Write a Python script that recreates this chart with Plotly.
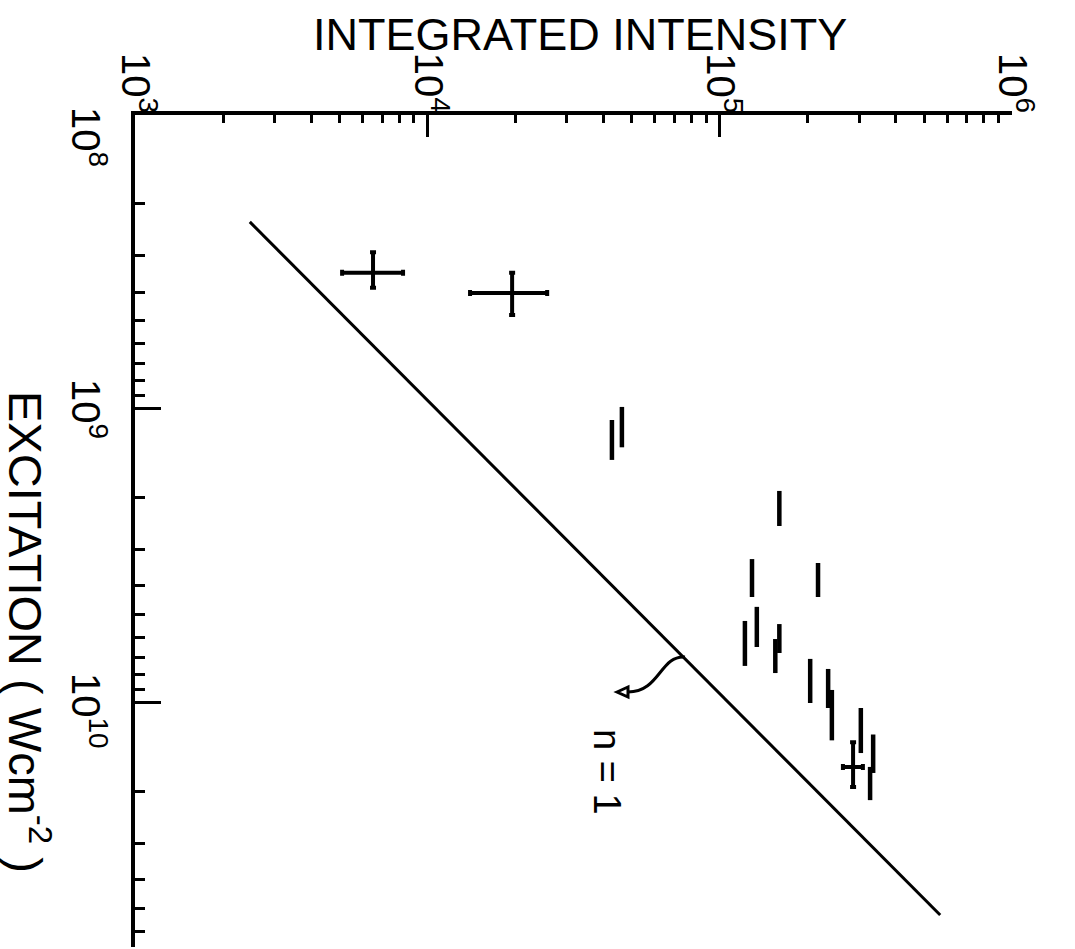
import math
import plotly.graph_objects as go

# ---- data ----
# intensity on horizontal axis, excitation on vertical axis
# crosses: points with error bars in both directions
cross_intensity = [6.52e3, 1.95e4, 2.86e5]
cross_intensity_low = [5.11e3, 1.40e4, 2.64e5]
cross_intensity_high = [8.26e3, 2.57e4, 3.09e5]
cross_excitation = [3.44e8, 4.03e8, 1.65e10]
cross_excitation_low = [2.93e8, 3.44e8, 1.36e10]
cross_excitation_high = [3.87e8, 4.79e8, 1.93e10]

# bars: excitation ranges at fixed intensity
bar_intensity = [4.28e4, 4.63e4, 1.60e5, 1.29e5, 2.17e5, 1.34e5, 1.22e5, 1.60e5,
                 1.55e5, 2.04e5, 2.35e5, 2.42e5, 3.04e5, 3.35e5, 3.27e5]
bar_excitation_low = [1.09e9, 9.84e8, 1.90e9, 3.24e9, 3.34e9, 4.71e9, 5.26e9, 5.39e9,
                      6.06e9, 7.08e9, 7.66e9, 9.03e9, 1.04e10, 1.28e10, 1.65e10]
bar_excitation_high = [1.49e9, 1.35e9, 2.50e9, 4.36e9, 4.36e9, 6.45e9, 7.48e9, 6.76e9,
                       7.91e9, 1.00e10, 1.04e10, 1.34e10, 1.48e10, 1.73e10, 2.14e10]

# n = 1 reference line
fit_intensity = [2.47e3, 5.68e5]
fit_excitation = [2.31e8, 5.26e10]

x_tick_vals = [1e3, 1e4, 1e5, 1e6]
x_tick_text = ["10<sup>3</sup>", "10<sup>4</sup>", "10<sup>5</sup>", "10<sup>6</sup>"]
y_tick_vals = [1e8, 1e9, 1e10]
y_tick_text = ["10<sup>8</sup>", "10<sup>9</sup>", "10<sup>10</sup>"]

x_title = "INTEGRATED INTENSITY"
y_title = "EXCITATION ( Wcm<sup>-2</sup> )"
fit_label = "n = 1"

FONT = "Liberation Sans"
BLACK = "black"

# plot-area geometry in pixels (used only to place the annotations)
L, R, T, B = 135, 1012, 115, 947
def px(xp):
    return (xp - L) / (R - L)
def py(yp):
    return 1 - (yp - T) / (B - T)

# bar centres (geometric) and error arrays
bar_center = [(lo * hi) ** 0.5 for lo, hi in zip(bar_excitation_low, bar_excitation_high)]
bar_plus = [hi - c for hi, c in zip(bar_excitation_high, bar_center)]
bar_minus = [c - lo for lo, c in zip(bar_excitation_low, bar_center)]

fig = go.Figure()

fig.add_trace(go.Scatter(
    x=fit_intensity, y=fit_excitation, mode="lines",
    line=dict(color=BLACK, width=3), hoverinfo="skip", showlegend=False))

fig.add_trace(go.Scatter(
    x=bar_intensity, y=bar_center, mode="markers",
    marker=dict(size=1, color=BLACK, opacity=0),
    error_y=dict(type="data", symmetric=False, array=bar_plus, arrayminus=bar_minus,
                 color=BLACK, thickness=4.5, width=0),
    showlegend=False))

fig.add_trace(go.Scatter(
    x=cross_intensity, y=cross_excitation, mode="markers",
    marker=dict(size=1, color=BLACK, opacity=0),
    error_x=dict(type="data", symmetric=False,
                 array=[h - c for h, c in zip(cross_intensity_high, cross_intensity)],
                 arrayminus=[c - l for l, c in zip(cross_intensity_low, cross_intensity)],
                 color=BLACK, thickness=4, width=3),
    error_y=dict(type="data", symmetric=False,
                 array=[h - c for h, c in zip(cross_excitation_high, cross_excitation)],
                 arrayminus=[c - l for l, c in zip(cross_excitation_low, cross_excitation)],
                 color=BLACK, thickness=4, width=3),
    showlegend=False))

# curved arrow from the line to the "n = 1" label (paper coordinates)
fig.add_shape(type="path", xref="paper", yref="paper",
              path=(f"M {px(685)},{py(657)} C {px(660)},{py(655)} "
                    f"{px(660)},{py(692)} {px(628)},{py(692)}"),
              line=dict(color=BLACK, width=3))
fig.add_shape(type="path", xref="paper", yref="paper",
              path=(f"M {px(617)},{py(692)} L {px(628)},{py(687)} "
                    f"L {px(628)},{py(697)} Z"),
              line=dict(color=BLACK, width=3), fillcolor="white")

fig.add_annotation(text=fit_label, xref="paper", yref="paper",
                   x=px(607), y=py(772), xanchor="center", yanchor="middle",
                   showarrow=False, textangle=90,
                   font=dict(family=FONT, size=38, color=BLACK))

fig.add_annotation(text=y_title, xref="paper", yref="paper",
                   x=px(29), y=py(632), xanchor="center", yanchor="middle",
                   showarrow=False, textangle=90,
                   font=dict(family=FONT, size=47, color=BLACK))

fig.add_annotation(text=x_title, xref="paper", yref="paper",
                   x=px(580), y=py(34), xanchor="center", yanchor="middle",
                   showarrow=False,
                   font=dict(family=FONT, size=45, color=BLACK))

# rotated tick labels (the whole figure is turned a quarter turn)
for v, t in zip(x_tick_vals, x_tick_text):
    fig.add_annotation(text=t, xref="x", yref="paper", x=math.log10(v),
                       y=py(83), xanchor="center", yanchor="middle",
                       xshift=4, showarrow=False, textangle=90,
                       font=dict(family=FONT, size=40, color=BLACK))
y_label_shift = {1e8: -22, 1e9: 0, 1e10: -8}
for v, t in zip(y_tick_vals, y_tick_text):
    fig.add_annotation(text=t, xref="paper", yref="y", x=px(89),
                       y=math.log10(v), xanchor="center", yanchor="middle",
                       yshift=y_label_shift[v], showarrow=False, textangle=90,
                       font=dict(family=FONT, size=40, color=BLACK))

fig.update_xaxes(
    type="log", range=[3, 6], side="top",
    tickmode="array", tickvals=x_tick_vals, ticktext=x_tick_text, showticklabels=False,
    ticks="inside", ticklen=22, tickwidth=3, tickcolor=BLACK,
    minor=dict(tickvals=[d * 10 ** e for e in (3, 4, 5) for d in range(2, 10)],
               ticks="inside", ticklen=8, tickwidth=3, tickcolor=BLACK),
    showline=True, linewidth=4, linecolor=BLACK, mirror=False,
    showgrid=False, zeroline=False,
)
fig.update_yaxes(
    type="log", range=[10.83, 8],
    tickmode="array", tickvals=y_tick_vals, ticktext=y_tick_text, showticklabels=False,
    ticks="inside", ticklen=26, tickwidth=3, tickcolor=BLACK,
    minor=dict(tickvals=[d * 10 ** e for e in (8, 9, 10) for d in range(2, 10)],
               ticks="inside", ticklen=10, tickwidth=3, tickcolor=BLACK),
    showline=True, linewidth=4, linecolor=BLACK, mirror=False,
    showgrid=False, zeroline=False,
)

fig.update_layout(
    width=1075, height=949,
    margin=dict(l=L, r=1075 - R, t=T, b=949 - B),
    paper_bgcolor="white", plot_bgcolor="white",
    font=dict(family=FONT, color=BLACK),
    showlegend=False,
)

fig.write_html("out.html")
